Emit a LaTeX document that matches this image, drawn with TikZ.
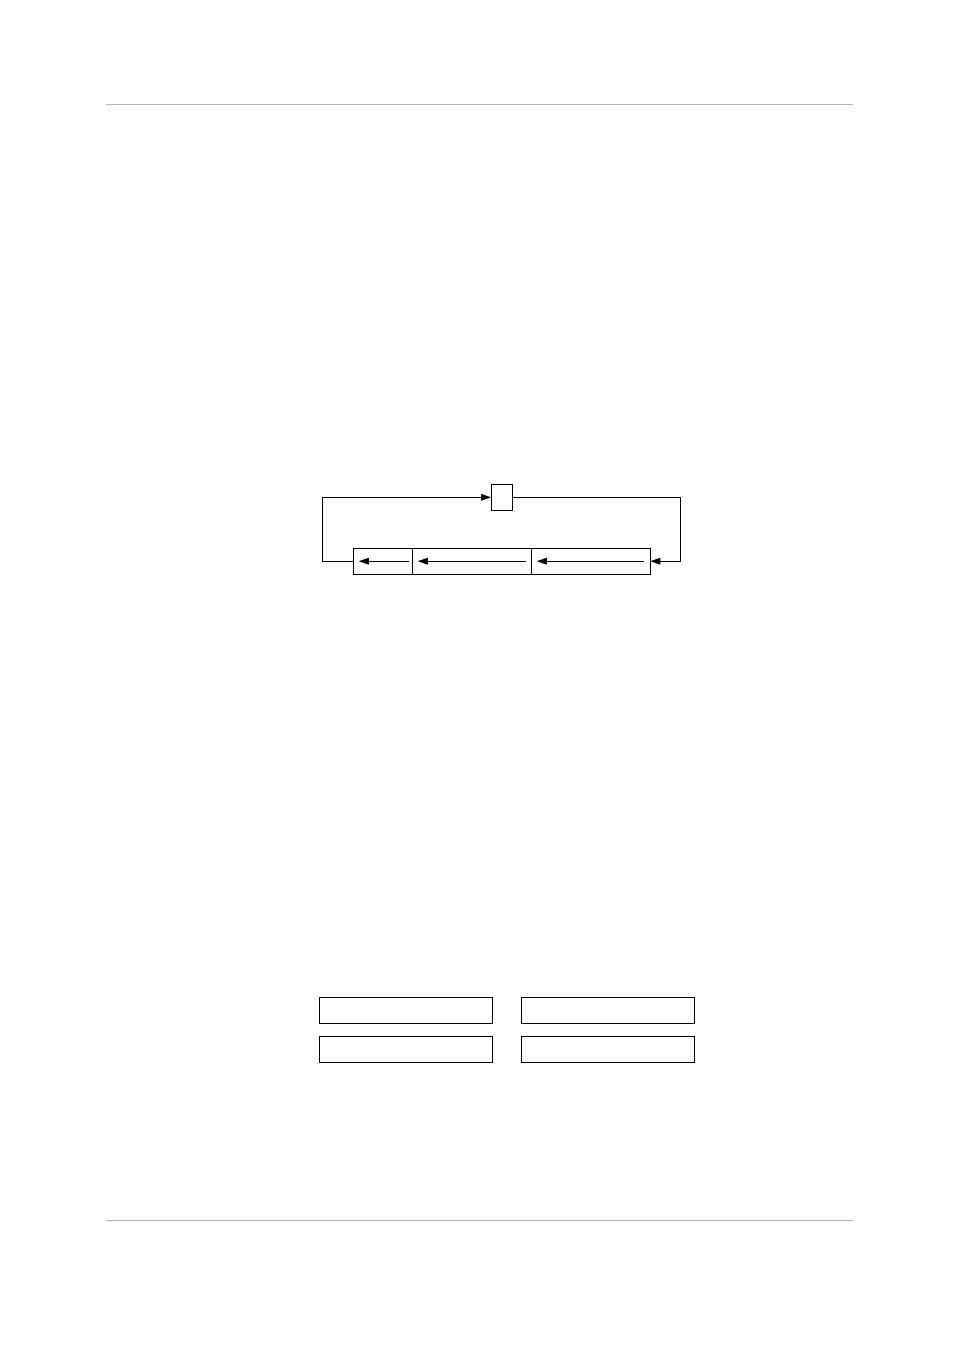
\documentclass[tikz,border=0pt]{standalone}
\usetikzlibrary{arrows.meta}
\begin{document}
\begin{tikzpicture}[x=0.75pt,y=-0.75pt,
  line width=0.75pt,
  rule/.style={draw=black!30, line width=0.9pt},
  cell/.style={draw, inner sep=0pt, outer sep=0pt},
  arr/.style={-{Triangle[length=7.5pt,width=5pt]}},
]
\useasboundingbox (0,0) rectangle (954,1350);
% header and footer rules
\coordinate (h1) at (106,104.3);
\coordinate (h2) at (852.5,104.3);
\coordinate (f1) at (106,1220.3);
\coordinate (f2) at (852.5,1220.3);
\draw[rule] (h1) -- (h2);
\draw[rule] (f1) -- (f2);
% top diagram
\node[cell, minimum width=21*0.75pt, minimum height=26*0.75pt] (sq) at (501.5,497.3) {};
\node[cell, minimum width=59*0.75pt, minimum height=25.7*0.75pt] (c1) at (382.8,561.2) {};
\node[cell, minimum width=119*0.75pt, minimum height=25.7*0.75pt] (c2) at (471.8,561.2) {};
\node[cell, minimum width=119*0.75pt, minimum height=25.7*0.75pt] (c3) at (590.8,561.2) {};
\draw[arr] ([xshift=-3.6*0.75pt]c1.east) -- ([xshift=5.5*0.75pt]c1.west);
\draw[arr] ([xshift=-5*0.75pt]c2.east) -- ([xshift=5.5*0.75pt]c2.west);
\draw[arr] ([xshift=-6.5*0.75pt]c3.east) -- ([xshift=5.5*0.75pt]c3.west);
\draw[arr] (sq.east) -- ++(168.5,0) |- (c3.east);
\draw[arr] (c1.west) -- ++(-31,0) |- (sq.west);
% bottom boxes
\node[cell, minimum width=173*0.75pt, minimum height=26*0.75pt] (b1) at (405.8,1010.3) {};
\node[cell, minimum width=173*0.75pt, minimum height=26*0.75pt] (b2) at (607.8,1010.3) {};
\node[cell, minimum width=173*0.75pt, minimum height=25.6*0.75pt] (b3) at (405.8,1049.5) {};
\node[cell, minimum width=173*0.75pt, minimum height=25.6*0.75pt] (b4) at (607.8,1049.5) {};
\end{tikzpicture}
\end{document}
